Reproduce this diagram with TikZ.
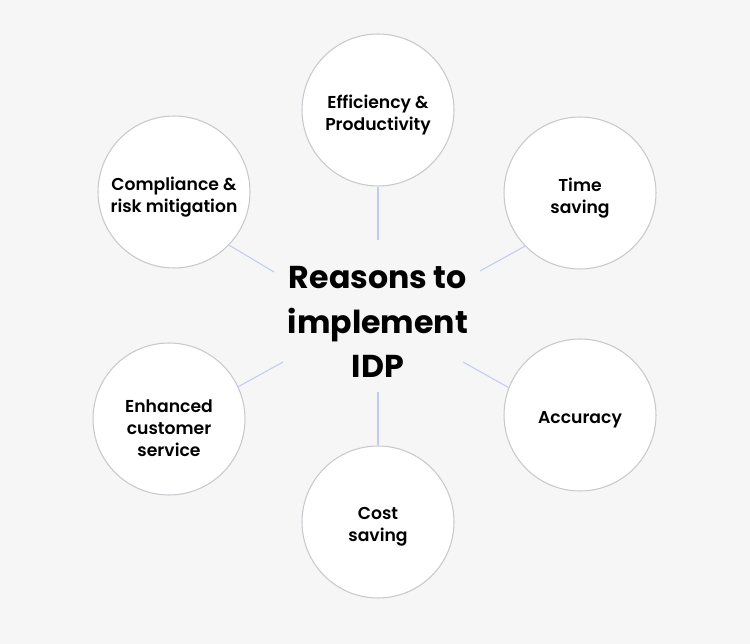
\documentclass[tikz,border=0pt]{standalone}
\usepackage{fontspec}
\setmainfont{Poppins}
\newfontfamily\reasonfont{Poppins SemiBold}
\definecolor{bg}{HTML}{F6F6F6}
\definecolor{ring}{HTML}{C8C9CE}
\definecolor{spokeblue}{HTML}{C2CBF5}
\begin{document}
\begin{tikzpicture}[x=0.02cm,y=-0.02cm,
    reason/.style={circle,draw=ring,line width=0.6pt,fill=white,minimum size=3.04cm,inner sep=0pt},
    reasontext/.style={align=center,yshift=-2.8pt,font=\reasonfont\fontsize{9.8}{12.5}\selectfont},
    link/.style={draw=spokeblue,line width=0.6pt}]
    \fill[bg] (0,0) rectangle (750,644);

    \node[font=\bfseries\fontsize{18}{25.5}\selectfont,align=center] (idp) at (378,322) {Reasons to\\implement\\IDP};

    \node[reason] (eff) at (378,110) {};
    \node[reason] (time) at (580,193) {};
    \node[reason] (acc) at (580,415) {};
    \node[reason] (cost) at (378,522) {};
    \node[reason] (cust) at (169,419) {};
    \node[reason] (comp) at (174,192) {};

    \node[reasontext] (eff-t) at (eff) {Efficiency \&\\Productivity};
    \node[reasontext] (time-t) at (time) {Time\\saving};
    \node[reasontext] (acc-t) at (acc) {Accuracy};
    \node[reasontext] (cost-t) at (cost) {Cost\\saving};
    \node[reasontext,yshift=-2.4pt] (cust-t) at (cust) {Enhanced\\customer\\service};
    \node[reasontext] (comp-t) at (comp) {Compliance \&\\risk mitigation};

    \coordinate (i-eff) at (378,240);
    \coordinate (i-time) at (480,271);
    \coordinate (i-acc) at (463,362);
    \coordinate (i-cost) at (378,392);
    \coordinate (i-cust) at (283,362);
    \coordinate (i-comp) at (274,272);

    \draw[link] (i-eff) -- (eff.-90);
    \draw[link] (i-time) -- (time.224);
    \draw[link] (i-acc) -- (acc.159);
    \draw[link] (i-cost) -- (cost.90);
    \draw[link] (i-cust) -- (cust.25);
    \draw[link] (i-comp) -- (comp.-44);
\end{tikzpicture}
\end{document}
